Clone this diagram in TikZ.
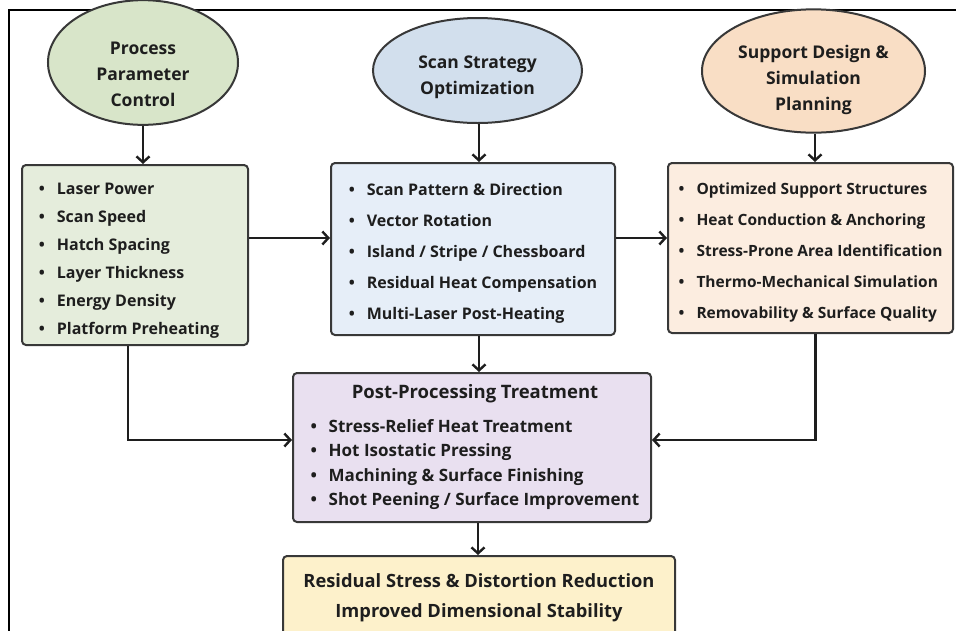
\documentclass[tikz,border=0pt]{standalone}
\usepackage{fontspec}
\setmainfont{Open Sans}
\usetikzlibrary{shapes.geometric,arrows.meta}

\definecolor{edge}{HTML}{383838}
\definecolor{ink}{HTML}{1E1E1E}
\definecolor{greenOval}{HTML}{D8E5C9}
\definecolor{greenBox}{HTML}{E5EDDC}
\definecolor{blueOval}{HTML}{D2DFED}
\definecolor{blueBox}{HTML}{E6EEF8}
\definecolor{peachOval}{HTML}{F9DEC5}
\definecolor{peachBox}{HTML}{FCEDE0}
\definecolor{lilacBox}{HTML}{E9E0F0}
\definecolor{creamBox}{HTML}{FDF1CB}

% bullet with fixed gap before the item text
\newcommand{\itm}{\makebox[18pt][l]{\textbullet}}
% invisible strut that lowers a centred block of lines
\newcommand{\padtop}[1]{\rule{0pt}{#1}}

\tikzset{
  oval/.style={ellipse, draw=edge, line width=2pt, inner sep=0pt,
    align=center, text=ink, font=\bfseries\fontsize{17.5}{26}\selectfont},
  listbox/.style={rectangle, rounded corners=4pt, draw=edge, line width=2pt,
    align=left, inner sep=0pt, text=ink, font=\bfseries\fontsize{16}{31}\selectfont},
  arr/.style={draw=ink, line width=2.4pt,
    -{Straight Barb[length=6pt,width=13pt,line width=2.4pt]}},
}

\begin{document}
\begin{tikzpicture}[x=1pt,y=-1pt]
  \useasboundingbox (0,0) rectangle (956,630);
  \clip (0,0) rectangle (956,630);
  \fill[white] (0,0) rectangle (956,630);

  % frame
  \draw[black, line width=1.8pt] (9,640) -- (9,10) -- (960,10);

  % top row: ovals
  \node[oval, fill=greenOval, minimum width=190pt, minimum height=91pt]
    (e1) at (143,62.5) {\padtop{36pt}Process\\Parameter\\Control};
  \node[oval, fill=blueOval, minimum width=209pt, minimum height=105pt]
    (e2) at (477.5,70.5) {\padtop{26pt}Scan Strategy\\Optimization};
  \node[oval, fill=peachOval, minimum width=223pt, minimum height=112pt]
    (e3) at (813.5,71) {\padtop{31pt}Support Design \&\\Simulation\\Planning};

  % list boxes
  \node[listbox, fill=greenBox, minimum width=226pt, minimum height=180pt,
        font=\bfseries\fontsize{16}{28}\selectfont]
    (b1) at (135,255) {\padtop{22pt}\itm Laser Power\\\itm Scan Speed\\\itm Hatch Spacing\\
      \itm Layer Thickness\\\itm Energy Density\\\itm Platform Preheating\kern12pt};
  \node[listbox, fill=blueBox, minimum width=284pt, minimum height=172pt]
    (b2) at (473,249) {\padtop{20pt}\itm Scan Pattern \& Direction\\\itm Vector Rotation\\
      \itm Island / Stripe / Chessboard\\\itm Residual Heat Compensation\\
      \itm Multi-Laser Post-Heating};
  \node[listbox, fill=peachBox, minimum width=285pt, minimum height=170pt,
        font=\bfseries\fontsize{15.5}{31}\selectfont]
    (b3) at (810.5,248) {\padtop{20pt}\itm Optimized Support Structures\\
      \itm Heat Conduction \& Anchoring\\\itm Stress-Prone Area Identification\\
      \itm Thermo-Mechanical Simulation\\\itm Removability \& Surface Quality};

  % post-processing
  \node[listbox, fill=lilacBox, minimum width=358pt, minimum height=149pt,
        font=\bfseries\fontsize{17}{24.5}\selectfont]
    (post) at (472,447.5) {\hspace{6pt}\begin{tabular}{@{}l@{}}
      \multicolumn{1}{c}{\fontsize{18.5}{24.5}\selectfont Post-Processing Treatment}\\[9pt]
      \itm Stress-Relief Heat Treatment\\
      \itm Hot Isostatic Pressing\\
      \itm Machining \& Surface Finishing\\
      \itm Shot Peening / Surface Improvement
    \end{tabular}};

  % outcome
  \node[listbox, fill=creamBox, minimum width=392pt, minimum height=84pt,
        align=center, font=\bfseries\fontsize{18.3}{30}\selectfont]
    (res) at (479,598) {Residual Stress \& Distortion Reduction\\
      Improved Dimensional Stability};

  % connectors
  \draw[arr] (e1.south) -- (e1.south |- b1.north);
  \draw[arr] ([xshift=1.5pt]e2.south) -- ([xshift=1.5pt]e2.south |- b2.north);
  \draw[arr] ([xshift=1.5pt]e3.south) -- ([xshift=1.5pt]e3.south |- b3.north);
  \draw[arr] ([yshift=17pt]b1.east) -- ([yshift=17pt]b1.east -| b2.west);
  \draw[arr] ([yshift=11pt]b2.east) -- ([yshift=11pt]b2.east -| b3.west);
  \draw[arr] ([xshift=6pt]b2.south) -- ([xshift=6pt]b2.south |- post.north);
  \draw[arr] ([xshift=-7pt]b1.south) |- ([yshift=7.5pt]post.west);
  \draw[arr] ([xshift=5pt]b3.south) |- ([yshift=7.5pt]post.east);
  \draw[arr] ([xshift=6pt]post.south) -- ([xshift=6pt]post.south |- res.north);
\end{tikzpicture}
\end{document}
